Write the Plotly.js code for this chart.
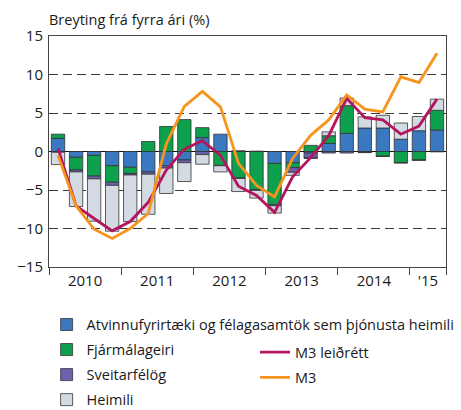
<!DOCTYPE html>
<html>
<head>
<meta charset="utf-8">
<script src="https://cdn.plot.ly/plotly-3.0.1.min.js"></script>
<style>
html,body{margin:0;padding:0;background:#fff;}
#chart{width:461px;height:410px;}
</style>
</head>
<body>
<div id="chart"></div>
<script>
// Quarters 2010Q1 - 2015Q2
const quarters = ['2010Q1','2010Q2','2010Q3','2010Q4','2011Q1','2011Q2','2011Q3','2011Q4',
  '2012Q1','2012Q2','2012Q3','2012Q4','2013Q1','2013Q2','2013Q3','2013Q4',
  '2014Q1','2014Q2','2014Q3','2014Q4','2015Q1','2015Q2'];
const yearNames = ['2010','2011','2012','2013','2014','2015'];
const yearLabels = ['2010','2011','2012','2013','2014',"'15"];

const atvinnufyrirtaeki = [1.7,-0.75,-0.5,-1.85,-2.05,-2.65,-1.85,-1.1,1.8,2.25,0.1,0.05,-1.55,-1.45,-0.2,1.05,2.35,3.05,3.05,1.6,2.7,2.8];
const fjarmalageiri     = [0.55,-1.65,-2.7,-2.15,-0.8,1.3,3.25,4.15,1.3,-1.8,-3.45,-4.95,-5.35,-0.65,0.8,1.0,3.6,-0.1,-0.6,-1.45,-1.1,2.55];
const sveitarfelog      = [-0.1,-0.25,-0.35,-0.4,-0.2,-0.3,-0.3,-0.35,-0.4,-0.05,-0.05,-0.1,-0.15,-0.6,-0.65,-0.2,-0.2,-0.05,-0.05,-0.05,-0.05,-0.05];
const heimili           = [-1.6,-4.5,-5.5,-5.95,-6.05,-5.2,-3.3,-2.45,-1.25,-0.8,-1.7,-1.0,-0.95,-0.4,-0.05,0.5,1.0,1.45,1.65,2.1,1.85,1.45];
const m3Leidrett        = [0.4,-7.05,-8.7,-10.3,-9.1,-6.6,-2.4,0.3,1.4,-0.5,-4.5,-5.7,-7.9,-3.3,-0.8,2.05,6.9,4.4,4.1,2.25,3.3,6.8];
const m3                = [-0.5,-7.05,-10.1,-11.3,-10.0,-8.05,1.0,5.85,7.8,5.8,-1.55,-4.4,-5.9,-0.9,2.1,4.1,7.35,5.5,5.15,9.7,8.95,12.75];

const yTicks = [-15,-10,-5,0,5,10,15];

const xIdx = quarters.map((q,i)=>i);
const yearPos = yearNames.map(y=>{
  const idx = quarters.map((q,i)=>q.startsWith(y)?i:-1).filter(i=>i>=0);
  return idx.reduce((a,b)=>a+b,0)/idx.length;
});
const boundaries = yearNames.map(y=>quarters.findIndex(q=>q.startsWith(y))-0.5).concat([quarters.length-0.5]);

const outline = {color:'#333', width:0.8};
function barTrace(name, vals, color, grp){
  return {type:'bar', name:name, x:xIdx, y:vals, marker:{color:color, line:outline},
          legend:'legend', legendgroup:grp, hoverinfo:'skip'};
}
const traces = [
  barTrace('Atvinnufyrirtæki og félagasamtök sem þjónusta heimili', atvinnufyrirtaeki, '#3A78C0','a'),
  barTrace('Fjármálageiri', fjarmalageiri, '#0DA04D','b'),
  barTrace('Sveitarfélög', sveitarfelog, '#6B62AD','c'),
  barTrace('Heimili', heimili, '#D3DAE2','d'),
  {type:'scatter', mode:'lines', name:'M3 leiðrétt', x:xIdx, y:m3Leidrett,
   line:{color:'#B3155E', width:2.8}, legend:'legend2', legendgroup:'e', hoverinfo:'skip'},
  {type:'scatter', mode:'lines', name:'M3', x:xIdx, y:m3,
   line:{color:'#F7941D', width:2.8}, legend:'legend2', legendgroup:'f', hoverinfo:'skip'}
];

const FONT = '"Open Sans", "DejaVu Sans", sans-serif';
const layout = {
  width:461, height:410,
  margin:{l:49, r:15, t:36, b:143, autoexpand:false},
  paper_bgcolor:'#fff', plot_bgcolor:'#fff',
  font:{family:FONT, size:15, color:'#1a1a1a'},
  barmode:'relative', bargap:0.26,
  showlegend:true,
  title:{text:'Breyting frá fyrra ári (%)', x:49/461, xanchor:'left', xref:'container',
         y:1-20/410, yanchor:'middle', yref:'container', font:{family:FONT, size:14.5, color:'#1a1a1a'}},
  xaxis:{range:[-0.5, quarters.length-0.5], tickmode:'array', tickvals:yearPos, ticktext:yearLabels,
         ticks:'', showgrid:false, zeroline:false, showline:true, mirror:true, linecolor:'#444', linewidth:1,
         tickfont:{size:15}, fixedrange:true,
         minor:{tickmode:'array', tickvals:boundaries, ticks:'outside', ticklen:7, tickcolor:'#444', tickwidth:1, showgrid:false}},
  yaxis:{range:[-15,15], tickmode:'array', tickvals:yTicks, ticks:'', showgrid:true, gridcolor:'#3a3a3a', gridwidth:1,
         griddash:'9px,5px', zeroline:true, zerolinecolor:'#111', zerolinewidth:1,
         showline:true, mirror:true, linecolor:'#444', linewidth:1, tickfont:{size:15}, ticklabelstandoff:2, fixedrange:true},
  legend:{x:-0.006, xanchor:'left', y:-0.18, yanchor:'top', orientation:'v', traceorder:'grouped',
          tracegroupgap:3.2, font:{family:FONT, size:14.5, color:'#1a1a1a'}, bgcolor:'rgba(0,0,0,0)', borderwidth:0},
  legend2:{x:0.519, xanchor:'left', y:-0.3, yanchor:'top', orientation:'v', traceorder:'grouped',
          tracegroupgap:3.2, font:{family:FONT, size:14.5, color:'#1a1a1a'}, bgcolor:'rgba(0,0,0,0)', borderwidth:0}
};

Plotly.newPlot('chart', traces, layout, {displayModeBar:false, staticPlot:true});
</script>
</body>
</html>
